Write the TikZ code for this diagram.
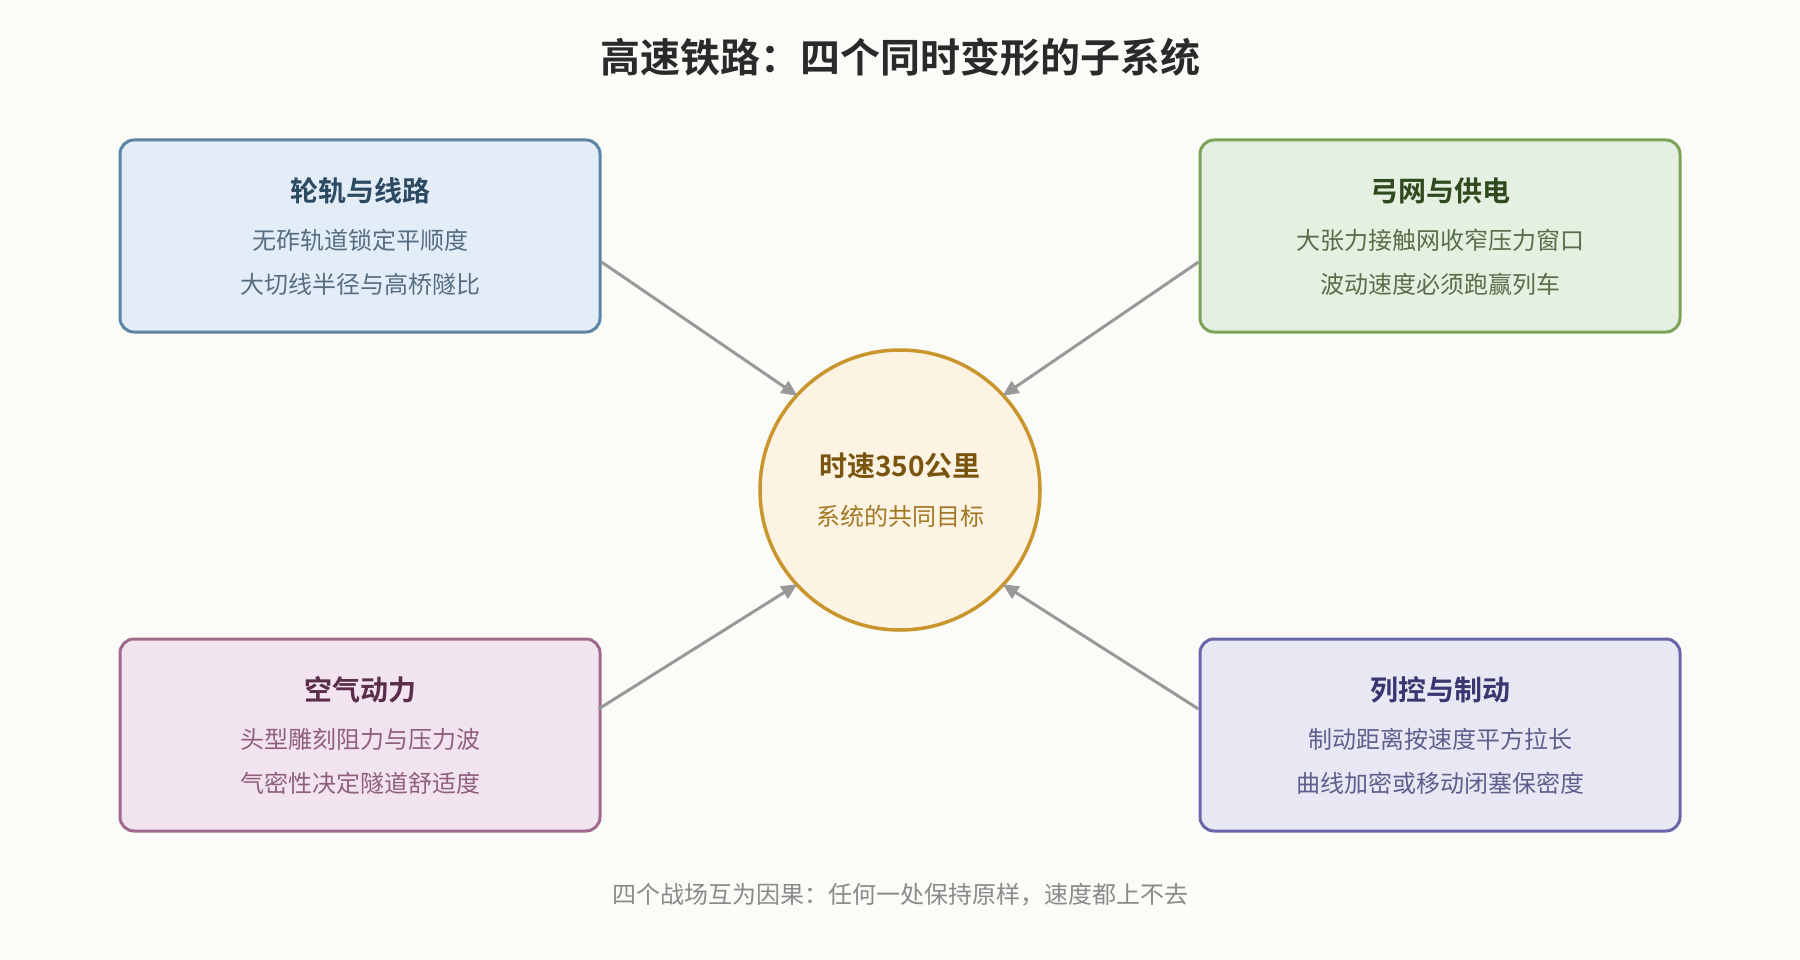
\documentclass[tikz,border=0pt]{standalone}
\usepackage{fontspec}
\setmainfont{Noto Sans CJK SC}[BoldFont={Noto Sans CJK SC Bold}]
\usetikzlibrary{positioning, calc, arrows.meta}
\definecolor{hsBg}{HTML}{FBFBF7}
\definecolor{hsGray}{HTML}{999999}
\definecolor{hsText}{HTML}{2A2A2A}
\definecolor{hsBlueF}{HTML}{E3EDF7}
\definecolor{hsBlueD}{HTML}{5B84A6}
\definecolor{hsBlueT}{HTML}{2D4A63}
\definecolor{hsGreenF}{HTML}{E6F0E0}
\definecolor{hsGreenD}{HTML}{7BA35A}
\definecolor{hsGreenT}{HTML}{2F4A1E}
\definecolor{hsPinkF}{HTML}{F2E4EE}
\definecolor{hsPinkD}{HTML}{A06A8C}
\definecolor{hsPinkT}{HTML}{5A2E4A}
\definecolor{hsPurpF}{HTML}{E8E8F5}
\definecolor{hsPurpD}{HTML}{6A66AA}
\definecolor{hsPurpT}{HTML}{3A3670}
\definecolor{hsGoldF}{HTML}{FDF3E3}
\definecolor{hsGoldD}{HTML}{C9962E}
\definecolor{hsGoldT}{HTML}{7A5510}
\tikzset{
    base/.style={
        align=center
    },
    field/.style={
        base,
        rectangle,
        rounded corners=14pt,
        line width=3pt,
        minimum width=480pt,
        minimum height=192pt
    },
    head/.style={
        base,
        font=\fontsize{28}{32}\selectfont\bfseries
    },
    line/.style={
        base,
        font=\fontsize{24}{28}\selectfont
    },
    flow/.style={
        -{Triangle[length=16pt,width=14pt]},
        line width=3pt,
        color=hsGray
    }
}
\begin{document}
\begin{tikzpicture}[x=1pt, y=-1pt]
  \fill[hsBg] (0,0) rectangle (1800,960);
  \useasboundingbox (0,0) rectangle (1800,960);

  % Title
  \node[head, font=\fontsize{40}{45}\selectfont\bfseries, text=hsText] (title) at (900,57) {高速铁路：四个同时变形的子系统};

  % Center
  \node[base, circle, draw=hsGoldD, fill=hsGoldF, line width=3.5pt, minimum size=280pt] (core) at (900,490) {};
  \node[head, text=hsGoldT] (coreh) at (900,466) {时速350公里};
  \node[line, text=hsGoldD!80!black] (corel) at (900,516) {系统的共同目标};

  % Four fields
  \node[field, draw=hsBlueD, fill=hsBlueF] (rail) at (360,236) {};
  \node[head, text=hsBlueT] at (360,191) {轮轨与线路};
  \node[line, text=hsBlueT!80] at (360,240) {无砟轨道锁定平顺度};
  \node[line, text=hsBlueT!80] at (360,284) {大切线半径与高桥隧比};

  \node[field, draw=hsGreenD, fill=hsGreenF] (power) at (1440,236) {};
  \node[head, text=hsGreenT] at (1440,191) {弓网与供电};
  \node[line, text=hsGreenT!80] at (1440,240) {大张力接触网收窄压力窗口};
  \node[line, text=hsGreenT!80] at (1440,284) {波动速度必须跑赢列车};

  \node[field, draw=hsPinkD, fill=hsPinkF] (aero) at (360,735) {};
  \node[head, text=hsPinkT] at (360,690) {空气动力};
  \node[line, text=hsPinkD!90!black] at (360,739) {头型雕刻阻力与压力波};
  \node[line, text=hsPinkD!90!black] at (360,783) {气密性决定隧道舒适度};

  \node[field, draw=hsPurpD, fill=hsPurpF] (ctrl) at (1440,735) {};
  \node[head, text=hsPurpT] at (1440,690) {列控与制动};
  \node[line, text=hsPurpT!80] at (1440,739) {制动距离按速度平方拉长};
  \node[line, text=hsPurpT!80] at (1440,783) {曲线加密或移动闭塞保密度};

  % Connectors
  \draw[flow] ($(rail.east)+(0,26)$) -- ($(core.140)+(6,-3)$);
  \draw[flow] ($(power.west)+(0,26)$) -- ($(core.40)+(-6,-3)$);
  \draw[flow] ($(aero.west)+(480,-26)$) -- ($(core.220)+(6,3)$);
  \draw[flow] ($(ctrl.west)+(0,-26)$) -- ($(core.320)+(-6,3)$);

  % Footer
  \node[line, font=\fontsize{24}{28}\selectfont, text=hsGray!90!black] (note) at (900,895) {四个战场互为因果：任何一处保持原样，速度都上不去};
\end{tikzpicture}
\end{document}
